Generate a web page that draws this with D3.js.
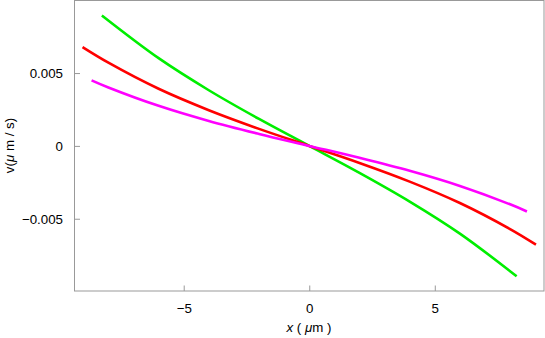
<!DOCTYPE html>
<html>
<head>
<meta charset="utf-8">
<script src="https://cdn.jsdelivr.net/npm/d3@7"></script>
<style>
  body { margin: 0; background: #fff; }
  svg { display: block; }
  text { font-family: "Liberation Sans", Arial, sans-serif; }
</style>
</head>
<body>
<svg id="chart" width="545" height="338"></svg>
<script>
// Data
const xTicks = [-5, 0, 5];
const yTicks = [-0.005, 0, 0.005];
const yTickLabels = ["\u22120.005", "0", "0.005"];
const xTickLabels = ["\u22125", "0", "5"];

const greenX = [-8.26, -6, -4, -2, 0, 2, 4, 6, 8.26];
const greenV = [0.00895, 0.00602, 0.00382, 0.00185, 0, -0.00185, -0.00382, -0.00602, -0.00895];

const redX = [-9.03, -8, -6, -4, -2, 0, 2, 4, 6, 8, 9.03];
const redV = [0.00678, 0.00571, 0.00392, 0.00245, 0.00117, 0, -0.00117, -0.00245, -0.00392, -0.00571, -0.00678];

const magentaX = [-8.67, -8, -6, -4, -2, 0, 2, 4, 6, 8, 8.67];
const magentaV = [0.0045, 0.00401, 0.00275, 0.00171, 0.00082, 0, -0.00082, -0.00171, -0.00275, -0.00401, -0.0045];

const seriesList = [
  { name: "green", xs: greenX, vs: greenV, color: "#00ee00" },
  { name: "red", xs: redX, vs: redV, color: "#ff0000" },
  { name: "magenta", xs: magentaX, vs: magentaV, color: "#ff00ff" }
];

const svg = d3.select("#chart");
const mLeft = 74, mRight = 544, mTop = 0.5, mBottom = 291;

const x = d3.scaleLinear().domain([-9.37, 9.35]).range([mLeft, mRight]);
const y = d3.scaleLinear().domain([-0.00996, 0.00998]).range([mBottom, mTop]);

const frameColor = "#999999";

// Lines
const line = d3.line()
  .x(d => x(d[0]))
  .y(d => y(d[1]))
  .curve(d3.curveCatmullRom.alpha(0.5));

svg.append("g")
  .selectAll("path")
  .data(seriesList)
  .join("path")
  .attr("d", s => line(s.xs.map((xv, i) => [xv, s.vs[i]])))
  .attr("fill", "none")
  .attr("stroke", s => s.color)
  .attr("stroke-width", 2.6);

// Frame
svg.append("rect")
  .attr("x", mLeft + 0.5)
  .attr("y", mTop)
  .attr("width", mRight - mLeft - 0.5)
  .attr("height", mBottom - mTop)
  .attr("fill", "none")
  .attr("stroke", frameColor)
  .attr("stroke-width", 1);

// Bottom axis (ticks pointing inward)
const xAxis = d3.axisBottom(x)
  .tickValues(xTicks)
  .tickSize(-5.5)
  .tickPadding(13)
  .tickFormat((d, i) => xTickLabels[i]);
const gx = svg.append("g")
  .attr("transform", `translate(0,${mBottom})`)
  .call(xAxis);
gx.select(".domain").remove();
gx.selectAll(".tick line").attr("stroke", frameColor);
gx.selectAll(".tick text")
  .attr("fill", "#000")
  .style("font-size", "13.3px")
  .style("font-family", "'Liberation Sans', Arial, sans-serif");

// Left axis (ticks pointing inward)
const yAxis = d3.axisLeft(y)
  .tickValues(yTicks)
  .tickSize(-6)
  .tickPadding(11)
  .tickFormat((d, i) => yTickLabels[i]);
const gy = svg.append("g")
  .attr("transform", `translate(${mLeft},0)`)
  .call(yAxis);
gy.select(".domain").remove();
gy.selectAll(".tick line").attr("stroke", frameColor);
gy.selectAll(".tick text")
  .attr("fill", "#000")
  .style("font-size", "13.3px")
  .style("font-family", "'Liberation Sans', Arial, sans-serif");

// X axis label
const xl = svg.append("text")
  .attr("x", 309)
  .attr("y", 332)
  .attr("text-anchor", "middle")
  .style("font-size", "13.3px");
xl.append("tspan").attr("font-style", "italic").text("x");
xl.append("tspan").text(" ( ");
xl.append("tspan").attr("font-style", "italic").text("\u03bc");
xl.append("tspan").text("m )");

// Y axis label
const yl = svg.append("text")
  .attr("transform", "translate(14,145.5) rotate(-90)")
  .attr("text-anchor", "middle")
  .style("font-size", "13.3px");
yl.append("tspan").text("v(");
yl.append("tspan").attr("font-style", "italic").text("\u03bc");
yl.append("tspan").text(" m / s)");
</script>
</body>
</html>
